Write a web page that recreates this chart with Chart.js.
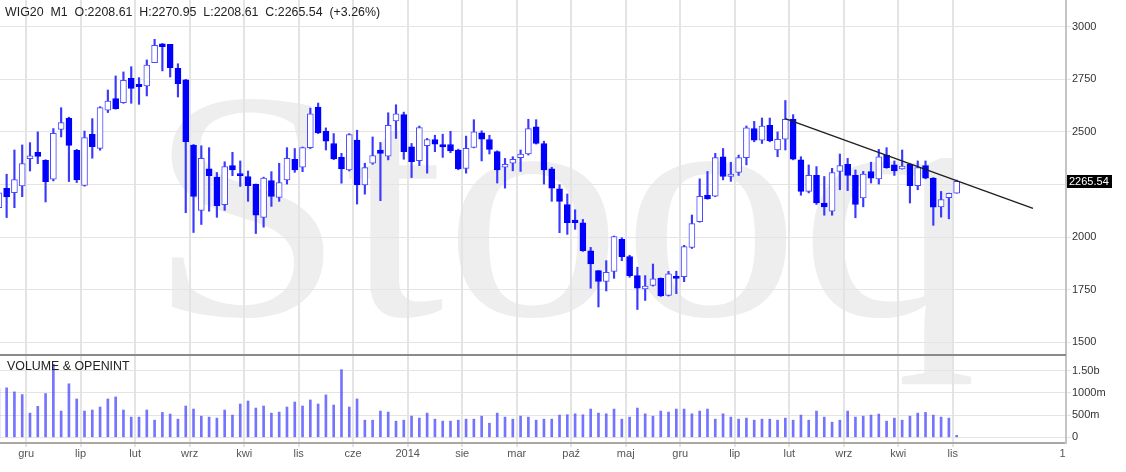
<!DOCTYPE html>
<html>
<head>
<meta charset="utf-8">
<script src="https://cdn.jsdelivr.net/npm/chart.js@4.4.1/dist/chart.umd.min.js"></script>
<style>
  html, body { margin: 0; padding: 0; background: #fff; }
  #wrap { position: relative; width: 1126px; height: 472px; overflow: hidden; font-family: Arial, "Liberation Sans", sans-serif; }
  canvas { position: absolute; left: 0; }
  #bg { top: 0; z-index: 0; }
  #price { top: 0; z-index: 1; }
  #vol { top: 354px; z-index: 1; }
  .lbl { position: absolute; z-index: 2; font-size: 12.4px; line-height: 14px; color: #222; white-space: pre; }
</style>
</head>
<body>
<div id="wrap">
  <canvas id="bg" width="1126" height="472"></canvas>
  <canvas id="price" width="1126" height="354"></canvas>
  <canvas id="vol" width="1126" height="118"></canvas>
  <div class="lbl" style="left:5px;top:5px;">WIG20  M1  O:2208.61  H:2270.95  L:2208.61  C:2265.54  (+3.26%)</div>
  <div class="lbl" style="left:7px;top:359px;">VOLUME &amp; OPENINT</div>
</div>
<script>
// monthly candles, Aug 2009 .. Nov 2019 (index = month number)
const opens = [2140, 2232, 2211, 2243, 2373, 2403, 2365, 2275, 2512, 2565,
  2413, 2246, 2489, 2422, 2603, 2658, 2639, 2755, 2726, 2718,
  2829, 2919, 2916, 2802, 2747, 2437, 2127, 2324, 2285, 2154,
  2340, 2302, 2288, 2252, 2094, 2269, 2189, 2272, 2370, 2332,
  2425, 2618, 2503, 2445, 2379, 2319, 2461, 2248, 2351, 2414,
  2385, 2552, 2582, 2429, 2363, 2434, 2464, 2440, 2440, 2414,
  2327, 2426, 2495, 2464, 2406, 2332, 2351, 2378, 2395, 2524,
  2445, 2324, 2230, 2155, 2081, 2068, 1935, 1841, 1789, 1837,
  1990, 1908, 1817, 1754, 1770, 1804, 1723, 1814, 1812, 1951,
  2073, 2199, 2194, 2382, 2288, 2307, 2378, 2516, 2461, 2531,
  2414, 2465, 2560, 2367, 2217, 2293, 2162, 2123, 2312, 2346,
  2293, 2186, 2312, 2277, 2390, 2343, 2324, 2346, 2244, 2340,
  2280, 2144, 2188, 2208.61];
const highs = [2230, 2299, 2414, 2438, 2449, 2500, 2368, 2516, 2615, 2570,
  2417, 2504, 2563, 2620, 2699, 2766, 2785, 2810, 2758, 2842,
  2940, 2920, 2916, 2824, 2750, 2440, 2434, 2425, 2307, 2358,
  2403, 2362, 2314, 2252, 2285, 2311, 2351, 2425, 2421, 2428,
  2613, 2637, 2519, 2492, 2398, 2492, 2508, 2351, 2476, 2450,
  2591, 2629, 2594, 2445, 2528, 2469, 2484, 2489, 2503, 2418,
  2480, 2558, 2505, 2484, 2410, 2374, 2382, 2414, 2560, 2558,
  2456, 2332, 2249, 2205, 2130, 2084, 1951, 1841, 1888, 2005,
  1997, 1914, 1857, 1817, 1872, 1806, 1837, 1838, 1961, 2105,
  2277, 2312, 2398, 2421, 2356, 2390, 2528, 2550, 2566, 2566,
  2500, 2649, 2582, 2382, 2343, 2335, 2288, 2327, 2395, 2374,
  2319, 2312, 2356, 2417, 2425, 2362, 2414, 2348, 2362, 2362,
  2283, 2217, 2209, 2270.95];
const lows = [2120, 2093, 2140, 2192, 2314, 2349, 2167, 2267, 2476, 2264,
  2259, 2242, 2375, 2413, 2592, 2608, 2636, 2636, 2631, 2671,
  2829, 2790, 2761, 2666, 2116, 2022, 2060, 2123, 2094, 2127,
  2292, 2241, 2170, 2017, 2047, 2146, 2170, 2252, 2308, 2311,
  2421, 2492, 2414, 2368, 2256, 2314, 2157, 2204, 2346, 2173,
  2367, 2469, 2370, 2283, 2340, 2304, 2406, 2379, 2401, 2320,
  2304, 2424, 2362, 2395, 2257, 2233, 2315, 2312, 2390, 2442,
  2252, 2170, 2021, 2013, 2037, 1932, 1757, 1668, 1744, 1804,
  1888, 1809, 1656, 1699, 1767, 1718, 1720, 1731, 1788, 1946,
  2071, 2180, 2192, 2272, 2265, 2293, 2343, 2453, 2445, 2453,
  2382, 2414, 2367, 2199, 2210, 2155, 2104, 2104, 2225, 2221,
  2092, 2144, 2257, 2252, 2327, 2293, 2323, 2162, 2225, 2277,
  2056, 2095, 2087, 2208.61];
const closes = [2211, 2191, 2273, 2349, 2386, 2384, 2264, 2493, 2544, 2436,
  2272, 2473, 2430, 2615, 2647, 2611, 2745, 2707, 2715, 2817,
  2912, 2905, 2805, 2729, 2454, 2193, 2374, 2292, 2149, 2335,
  2319, 2292, 2245, 2104, 2280, 2193, 2259, 2374, 2319, 2425,
  2586, 2495, 2456, 2371, 2324, 2487, 2248, 2330, 2387, 2398,
  2531, 2586, 2406, 2359, 2520, 2464, 2442, 2429, 2410, 2324,
  2422, 2500, 2465, 2417, 2319, 2346, 2370, 2395, 2516, 2445,
  2319, 2233, 2170, 2068, 2068, 1935, 1872, 1789, 1833, 2002,
  1907, 1817, 1757, 1767, 1802, 1720, 1825, 1804, 1955, 2064,
  2194, 2181, 2378, 2288, 2300, 2378, 2519, 2461, 2528, 2458,
  2465, 2560, 2370, 2217, 2293, 2162, 2144, 2307, 2340, 2293,
  2155, 2299, 2280, 2382, 2330, 2315, 2338, 2244, 2330, 2280,
  2142, 2178, 2208.61, 2265.54];
// volume in millions
const volumes = [1100, 1114, 1023, 962, 545, 697, 985, 1644, 591, 1205,
  864, 591, 614, 682, 864, 909, 614, 455, 455, 614,
  386, 561, 523, 409, 705, 636, 477, 455, 432, 614,
  500, 750, 818, 659, 705, 545, 568, 682, 795, 705,
  841, 750, 955, 727, 1523, 682, 864, 386, 386, 591,
  568, 364, 386, 477, 432, 545, 409, 364, 364, 386,
  409, 409, 477, 318, 545, 455, 409, 477, 455, 386,
  409, 409, 500, 508, 530, 508, 636, 545, 530, 636,
  409, 455, 659, 530, 477, 591, 568, 636, 636, 530,
  591, 636, 409, 530, 455, 409, 432, 386, 409, 409,
  386, 432, 386, 500, 386, 591, 455, 341, 386, 591,
  455, 477, 500, 523, 364, 432, 386, 477, 545, 561,
  500, 455, 432, 45];

// month-start gridlines and their labels
const gridPos = [3.5, 10.5, 17.5, 24.5, 31.5, 38.5, 45.5, 52.5, 59.5, 66.5, 73.5, 80.5, 87.5, 94.5, 101.5, 108.5, 115.5, 122.5, 136.6];
const gridLabels = ['gru', 'lip', 'lut', 'wrz', 'kwi', 'lis', 'cze', '2014', 'sie', 'mar', 'paź', 'maj', 'gru', 'lip', 'lut', 'wrz', 'kwi', 'lis', '1'];
const priceTicks = [1500, 1750, 2000, 2250, 2500, 2750, 3000];
const volTicks = [0, 500, 1000, 1500];
const volTickLabels = ['0', '500m', '1000m', '1.50b'];

// trend line drawn on the chart
const trendX = [101, 132.8];
const trendY = [2563, 2137];
const lastClose = 2265.54;

const X_MIN = 0.148, X_MAX = 137.04;
const GRID = '#e4e4e4';
const FONT = { family: 'Arial, "Liberation Sans", sans-serif', size: 11 };

const isUp = i => closes[i] >= opens[i];

// big "Stooq" watermark behind both panels
(function drawWatermark() {
  const ctx = document.getElementById('bg').getContext('2d');
  const family = '"Liberation Serif", "Times New Roman", serif';
  ctx.font = '300px ' + family;
  const mo = ctx.measureText('o');
  const size = 300 * 163 / (mo.actualBoundingBoxAscent + mo.actualBoundingBoxDescent);
  ctx.font = size + 'px ' + family;
  const m = ctx.measureText('Stooq');
  const oDesc = ctx.measureText('o').actualBoundingBoxDescent;
  const sx = 802 / (m.actualBoundingBoxLeft + m.actualBoundingBoxRight);
  ctx.fillStyle = '#eeeeee';
  ctx.setTransform(sx, 0, 0, 1, 170 + m.actualBoundingBoxLeft * sx, 320 - oDesc);
  ctx.fillText('Stooq', 0, 0);
  ctx.setTransform(1, 0, 0, 1, 0, 0);
})();

const noPad = s => { s.paddingTop = 0; s.paddingBottom = 0; s.paddingLeft = 0; s.paddingRight = 0; };

const lastPricePlugin = {
  id: 'lastPrice',
  afterDraw(chart) {
    const ctx = chart.ctx;
    const y = Math.round(chart.scales.y.getPixelForValue(lastClose));
    const x = chart.chartArea.right + 1;
    ctx.save();
    ctx.fillStyle = '#000';
    ctx.fillRect(x, y - 6, 45, 13);
    ctx.fillStyle = '#fff';
    ctx.font = '11px Arial, "Liberation Sans", sans-serif';
    ctx.textBaseline = 'middle';
    ctx.fillText(lastClose.toFixed(2), x + 2, y + 0.5);
    ctx.restore();
  }
};

const separatorPlugin = {
  id: 'separator',
  afterDraw(chart) {
    const ctx = chart.ctx;
    const a = chart.chartArea;
    ctx.save();
    ctx.strokeStyle = '#8a8a8a';
    ctx.lineWidth = 2;
    ctx.beginPath();
    ctx.moveTo(a.left, a.top + 1);
    ctx.lineTo(a.right, a.top + 1);
    ctx.stroke();
    ctx.restore();
  }
};

new Chart(document.getElementById('price'), {
  type: 'bar',
  data: {
    datasets: [
      {
        type: 'line',
        data: trendX.map((x, i) => ({ x: x, y: trendY[i] })),
        borderColor: '#1e1e1e',
        borderWidth: 1.3,
        pointRadius: 0,
        order: 0
      },
      {
        type: 'bar',
        data: opens.map((o, i) => ({ x: i, y: [o, closes[i]] })),
        grouped: false,
        barThickness: 6,
        borderWidth: 1,
        borderSkipped: false,
        backgroundColor: ctx => isUp(ctx.dataIndex) ? '#ffffff' : '#0000ff',
        borderColor: ctx => isUp(ctx.dataIndex) ? '#4a4aff' : '#0000ff',
        order: 1
      },
      {
        type: 'bar',
        data: lows.map((l, i) => ({ x: i, y: [l, highs[i]] })),
        grouped: false,
        barThickness: 1.5,
        borderWidth: 0,
        backgroundColor: '#3a3aff',
        order: 2
      }
    ]
  },
  options: {
    responsive: false,
    animation: false,
    devicePixelRatio: 1,
    layout: { padding: 0 },
    plugins: { legend: { display: false }, tooltip: { enabled: false } },
    scales: {
      x: {
        type: 'linear',
        min: X_MIN,
        max: X_MAX,
        offset: false,
        afterBuildTicks: s => { s.ticks = gridPos.slice(0, -1).map(v => ({ value: v })); },
        afterFit: s => { s.height = 0; noPad(s); },
        ticks: { display: false },
        grid: { color: GRID, lineWidth: 2, drawTicks: false, offset: false },
        border: { display: false }
      },
      y: {
        position: 'right',
        min: 1444.4,
        max: 3126.9,
        afterBuildTicks: s => { s.ticks = priceTicks.map(v => ({ value: v })); },
        afterFit: s => { s.width = 60; noPad(s); },
        ticks: { color: '#333', font: FONT, padding: 1, callback: v => String(v) },
        grid: { color: GRID, lineWidth: 1, tickLength: 5 },
        border: { display: true, color: '#c4c4c4', width: 2 }
      }
    }
  },
  plugins: [lastPricePlugin]
});

new Chart(document.getElementById('vol'), {
  type: 'bar',
  data: {
    datasets: [{
      data: volumes.map((v, i) => ({ x: i, y: v })),
      barThickness: 2,
      backgroundColor: 'rgba(70, 70, 255, 0.75)'
    }]
  },
  options: {
    responsive: false,
    animation: false,
    devicePixelRatio: 1,
    layout: { padding: 0 },
    plugins: { legend: { display: false }, tooltip: { enabled: false } },
    scales: {
      x: {
        type: 'linear',
        min: X_MIN,
        max: X_MAX,
        offset: false,
        afterBuildTicks: s => { s.ticks = gridPos.map(v => ({ value: v })); },
        afterFit: s => { s.height = 29; noPad(s); },
        ticks: { color: '#555', font: FONT, padding: 0, autoSkip: false, maxRotation: 0, callback: (v, i) => gridLabels[i] },
        grid: { color: c => (c.index === gridPos.length - 1 ? 'rgba(0,0,0,0)' : GRID), lineWidth: 2, tickLength: 4, offset: false },
        border: { display: true, color: '#a8a8a8', width: 2 }
      },
      y: {
        position: 'right',
        min: -128,
        max: 1876,
        afterBuildTicks: s => { s.ticks = volTicks.map(v => ({ value: v })); },
        afterFit: s => { s.width = 60; noPad(s); },
        ticks: { color: '#333', font: FONT, padding: 1, callback: (v, i) => volTickLabels[i] },
        grid: { color: GRID, lineWidth: 1, tickLength: 5 },
        border: { display: true, color: '#c4c4c4', width: 2 }
      }
    }
  },
  plugins: [separatorPlugin]
});
</script>
</body>
</html>
